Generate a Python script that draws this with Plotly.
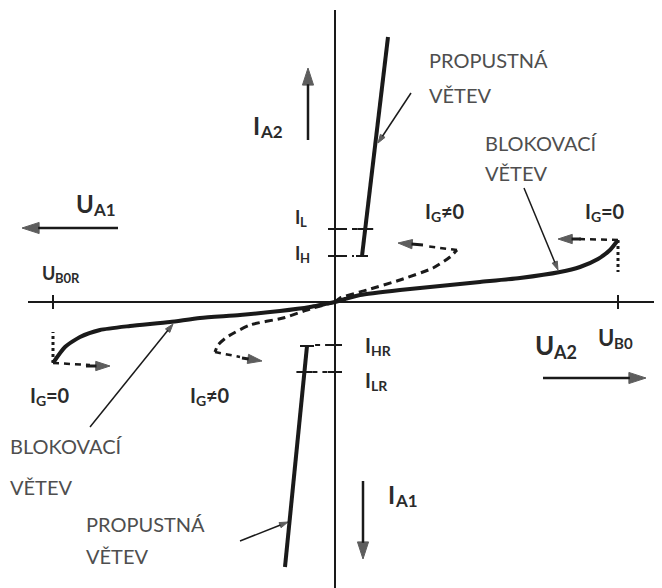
import plotly.graph_objects as go

# triac V-A characteristic, units are px from the axis crossing (U to the right, I up)
axis_u = [-307, 327]
axis_i = [-286, 292]

# blocking branch, 1st quadrant (I_G = 0)
blk_r_u = [0, 10, 25, 65, 105, 145, 185, 225, 245, 263, 275, 283]
blk_r_i = [0, 3, 7, 12, 16, 20, 24, 30, 35, 43, 52, 62]
# blocking branch, 3rd quadrant (I_G = 0)
blk_l_u = [0, -25, -55, -95, -135, -165, -205, -235, -255, -270, -282]
blk_l_i = [0, -5, -9, -13, -16, -20, -24, -28, -35, -45, -61]

# gate triggered curves (I_G != 0)
gate_r_u = [0, 5, 32, 65, 98, 115, 122]
gate_r_i = [0, 4, 12, 22, 34, 45, 52]
gate_l_u = [0, -25, -52, -85, -108, -117, -120]
gate_l_i = [0, -7, -16, -23, -35, -43, -50]

# on-state (forward) branches
fwd_r_u = [27, 53]
fwd_r_i = [46, 265]
fwd_l_u = [-28, -50]
fwd_l_i = [-44, -265]

# currents / voltages marked on the axes
i_levels = {"IL": 73, "IH": 46, "IHR": -43, "ILR": -70}
u_b0 = 283
u_b0r = -282

INK = "#1a1a1a"
TXT = "#2b2b2b"
GREY = "#4e4e4e"
FONT = "Lato"

# rough advance widths of Lato Bold (em), used to put subscripts after their symbol
ADV = {"I": 0.29, "U": 0.71, "A": 0.69, "G": 0.72, "H": 0.76, "L": 0.53,
       "R": 0.65, "B": 0.67, "0": 0.58, "1": 0.58, "2": 0.58, "=": 0.58, "≠": 0.58}

fig = go.Figure()


def line(u, i, width=2, dash="solid", color=INK):
    fig.add_trace(go.Scatter(x=u, y=i, mode="lines", hoverinfo="skip",
                             line=dict(color=color, width=width, dash=dash, shape="spline", smoothing=0.6)))


def arrow(u0, i0, u1, i1, width=2, head=14):
    # line with an arrow marker at its end, pointing along the segment
    fig.add_trace(go.Scatter(x=[u0, u1], y=[i0, i1], mode="lines+markers", hoverinfo="skip",
                             line=dict(color=INK, width=width),
                             marker=dict(symbol="arrow", size=[0, head], color=INK,
                                         angleref="previous", line=dict(width=1, color=INK))))


def label(u, i, txt, size=18, color=TXT, bold=True):
    if bold:
        txt = "<b>" + txt + "</b>"
    fig.add_annotation(x=u, y=i, xref="x", yref="y", text=txt, showarrow=False,
                       xanchor="left", yanchor="middle", borderpad=0,
                       font=dict(family=FONT, size=size, color=color))


def symbol(u, i, main, sub, suffix="", size=20):
    # symbol with its subscript (and an optional "=0" part), each as its own text
    sub_size = round(size * 0.7)
    label(u, i, main, size)
    us = u + sum(ADV[c] for c in main) * size
    label(us, i - 0.27 * size, sub, sub_size)
    if suffix:
        label(us + sum(ADV[c] for c in sub) * sub_size, i, suffix, size)


# coordinate axes
line(axis_u, [0, 0], width=2)
line([0, 0], axis_i, width=2)

# blocking branches
line(blk_r_u, blk_r_i, width=4)
line(blk_l_u, blk_l_i, width=4)

# triggered curves
line(gate_r_u, gate_r_i, width=3, dash="8px,5px")
line(gate_l_u, gate_l_i, width=3, dash="8px,5px")

# forward branches with end serifs
line(fwd_r_u, fwd_r_i, width=4)
line(fwd_l_u, fwd_l_i, width=4)
line([fwd_r_u[0] - 6, fwd_r_u[0] + 6], [fwd_r_i[0]] * 2, width=2)
line([fwd_l_u[0] - 7, fwd_l_u[0] + 7], [fwd_l_i[0]] * 2, width=2)

# level ticks on axis and on the branches
for key, lvl in i_levels.items():
    line([-7, 7], [lvl, lvl], width=2)
    if lvl > 0:
        ub = fwd_r_u[0] + (lvl - fwd_r_i[0]) * (fwd_r_u[1] - fwd_r_u[0]) / (fwd_r_i[1] - fwd_r_i[0])
        line([7, ub - 8], [lvl, lvl], width=2, dash="5px,5px")
        if key == "IL":
            line([ub - 8, ub + 8], [lvl, lvl], width=2)
    else:
        ub = fwd_l_u[0] + (lvl - fwd_l_i[0]) * (fwd_l_u[1] - fwd_l_u[0]) / (fwd_l_i[1] - fwd_l_i[0])
        line([ub + 8, -7], [lvl, lvl], width=2, dash="5px,5px")
        if key == "ILR":
            line([ub - 8, ub + 8], [lvl, lvl], width=2)

# breakover ticks and dotted verticals
line([u_b0, u_b0], [-7, 7], width=2)
line([u_b0r, u_b0r], [-7, 7], width=2)
line([u_b0, u_b0], [blk_r_i[-1], 30], width=3, dash="dot")
line([u_b0r, u_b0r], [blk_l_i[-1], -30], width=3, dash="dot")

# dashed switching arrows
line([u_b0, 243], [62, 63], width=2.5, dash="6px,5px")
arrow(246, 63, 223, 63, width=3, head=15)
line([u_b0r, -245], [-61, -63], width=2.5, dash="6px,5px")
arrow(-249, -64, -225, -64, width=3, head=15)
line([122, 90], [52, 56], width=2.5, dash="6px,5px")
arrow(88, 57, 63, 59, width=3, head=15)
line([-120, -95], [-50, -55], width=2.5, dash="6px,5px")
arrow(-93, -56, -73, -59, width=3, head=15)

# direction arrows of the quantities
arrow(-27, 162, -27, 234, width=2.5, head=18)
arrow(28, -179, 28, -257, width=2.5, head=18)
arrow(-217, 74, -313, 74, width=2.5, head=18)
arrow(208, -76, 311, -76, width=2.5, head=18)

# pointers to the branch descriptions
arrow(76, 209, 43, 159, width=1.5, head=9)
arrow(189, 114, 223, 32, width=1.5, head=9)
arrow(-245, -125, -162, -22, width=1.5, head=9)
arrow(-95, -239, -47, -220, width=1.5, head=9)

# symbols
symbol(-83, 177, "I", "A2", size=24)
symbol(-260, 99, "U", "A1", size=24)
symbol(-41, 85, "I", "L", size=18)
symbol(-41, 49, "I", "H", size=18)
symbol(-294, 29, "U", "B0R", size=18)
symbol(89, 91, "I", "G", "≠0", size=20)
symbol(249, 91, "I", "G", "=0", size=20)
symbol(-306, -93, "I", "G", "=0", size=20)
symbol(-146, -93, "I", "G", "≠0", size=20)
symbol(29, -43, "I", "HR", size=20)
symbol(29, -78, "I", "LR", size=20)
symbol(199, -43, "U", "A2", size=26)
symbol(262, -35, "U", "B0", size=22)
symbol(52, -192, "I", "A1", size=24)

# branch descriptions
label(93, 242, "PROPUSTNÁ", size=20, color=GREY, bold=False)
label(93, 207, "VĚTEV", size=20, color=GREY, bold=False)
label(149, 159, "BLOKOVACÍ", size=20, color=GREY, bold=False)
label(149, 129, "VĚTEV", size=20, color=GREY, bold=False)
label(-326, -144, "BLOKOVACÍ", size=20, color=GREY, bold=False)
label(-326, -185, "VĚTEV", size=20, color=GREY, bold=False)
label(-250, -222, "PROPUSTNÁ", size=20, color=GREY, bold=False)
label(-250, -254, "VĚTEV", size=20, color=GREY, bold=False)

# the page body keeps its 8px margin, so the figure covers the window from (8, 8)
fig.update_layout(
    width=654, height=580,
    margin=dict(l=0, r=0, t=0, b=0),
    paper_bgcolor="white", plot_bgcolor="white",
    showlegend=False,
    xaxis=dict(range=[-327, 327], visible=False, fixedrange=True),
    yaxis=dict(range=[-286, 294], visible=False, fixedrange=True),
)

fig.write_html("out.html")
